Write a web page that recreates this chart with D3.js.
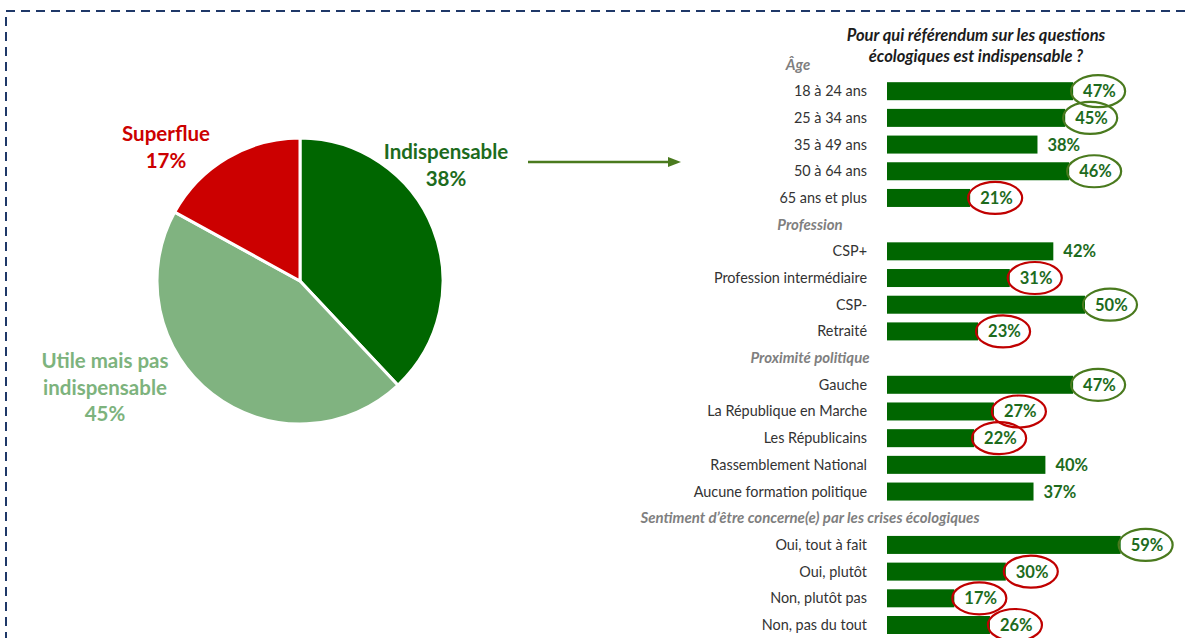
<!DOCTYPE html>
<html>
<head>
<meta charset="utf-8">
<script src="https://cdn.jsdelivr.net/npm/d3@7"></script>
<style>
    body { margin: 0; background: #fff; }
    #chart { width: 1187px; height: 638px; }
    text { font-family: Lato, "Open Sans", sans-serif; }
</style>
</head>
<body>
<div id="chart"></div>
<script>
// pie
const pieLabels = ['Indispensable', 'Utile mais pas indispensable', 'Superflue']
const pieValues = [38, 45, 17]

// bars
const groupNames = ['Âge', 'Profession', 'Proximité politique', 'Sentiment d’être concerne(e) par les crises écologiques']
const categories = [
    '18 à 24 ans', '25 à 34 ans', '35 à 49 ans', '50 à 64 ans', '65 ans et plus',
    'CSP+', 'Profession intermédiaire', 'CSP-', 'Retraité',
    'Gauche', 'La République en Marche', 'Les Républicains', 'Rassemblement National', 'Aucune formation politique',
    'Oui, tout à fait', 'Oui, plutôt', 'Non, plutôt pas', 'Non, pas du tout'
]
const categoryGroup = [0, 0, 0, 0, 0, 1, 1, 1, 1, 2, 2, 2, 2, 2, 3, 3, 3, 3]
const values = [47, 45, 38, 46, 21, 42, 31, 50, 23, 47, 27, 22, 40, 37, 59, 30, 17, 26]
// circled values: 'up' = above average, 'down' = below
const highlights = ['up', 'up', '', 'up', 'down', '', 'down', 'up', 'down', 'up', 'down', 'down', '', '', 'up', 'down', 'down', 'down']

const titleLines = ['Pour qui référendum sur les questions', 'écologiques est indispensable ?']

let DrawChart = function (id) {
    this.id = id
    this.svgWidth = 1187
    this.svgHeight = 638

    this.svg = d3.select('#' + id).append('svg')
        .attr('width', this.svgWidth)
        .attr('height', this.svgHeight)

    this.colors = {
        dark: '#006600',
        light: '#80b380',
        red: '#cc0000',
        darkText: '#1d6b1d',
        lightText: '#7db37d',
        olive: '#4a7a1e',
        circleRed: '#c00000'
    }
}

DrawChart.prototype.drawFrame = function () {
    // dashed frame, runs off the right and bottom edges
    this.svg.append('rect')
        .attr('x', 6)
        .attr('y', 11)
        .attr('width', 1250)
        .attr('height', 700)
        .attr('fill', 'none')
        .attr('stroke', '#1f3868')
        .attr('stroke-width', 2)
        .attr('stroke-dasharray', '9,6')
}

DrawChart.prototype.drawPie = function () {
    const c = this.colors
    const cx = 300, cy = 281, r = 143
    const g = this.svg.append('g')
        .attr('transform', 'translate(' + cx + ',' + cy + ')')

    const pie = d3.pie().sort(null).value(d => d)
    const arc = d3.arc().innerRadius(0).outerRadius(r)
    const fills = [c.dark, c.light, c.red]

    g.selectAll('path').data(pie(pieValues)).join('path')
        .attr('d', arc)
        .attr('fill', (d, i) => fills[i])
        .attr('stroke', '#fff')
        .attr('stroke-width', 3)

    // label anchors (first baseline) relative to pie centre
    const labelPos = [[146, -122], [-195, 87], [-134, -140]]
    const labelColors = [c.darkText, c.lightText, c.red]
    const lines = [
        ['Indispensable'],
        ['Utile mais pas', 'indispensable'],
        ['Superflue']
    ]

    pieLabels.forEach((name, i) => {
        const t = g.append('text')
            .attr('x', labelPos[i][0])
            .attr('y', labelPos[i][1])
            .attr('text-anchor', 'middle')
            .attr('font-size', 20.5)
            .attr('font-weight', 'bold')
            .attr('fill', labelColors[i])
        const rows = lines[i].concat([pieValues[i] + '%'])
        rows.forEach((s, j) => {
            t.append('tspan')
                .attr('x', labelPos[i][0])
                .attr('dy', j === 0 ? 0 : 26.5)
                .text(s)
        })
    })

    // arrow to the bar chart
    this.svg.append('line')
        .attr('x1', 528).attr('y1', 162)
        .attr('x2', 670).attr('y2', 162)
        .attr('stroke', c.olive)
        .attr('stroke-width', 2.5)
    this.svg.append('path')
        .attr('d', 'M668,157 L681,162 L668,167 Z')
        .attr('fill', c.olive)
}

DrawChart.prototype.drawBars = function () {
    const c = this.colors

    // one slot per group header and per category
    let slots = []
    groupNames.forEach((gName, gi) => {
        slots.push({ key: 'h' + gi, header: gName })
        categories.forEach((cat, i) => {
            if (categoryGroup[i] === gi) slots.push({ key: 'c' + i, index: i })
        })
    })

    const y = d3.scalePoint()
        .domain(slots.map(d => d.key))
        .range([64.5, 625])
    const x = d3.scaleLinear()
        .domain([0, 60])
        .range([887, 1124.6])
    const barH = 18

    const g = this.svg.append('g').attr('class', 'bars')

    g.selectAll('text.title').data(titleLines).join('text')
        .attr('class', 'title')
        .attr('x', 976)
        .attr('y', (d, i) => 41 + i * 21)
        .attr('text-anchor', 'middle')
        .attr('font-size', 16.5)
        .attr('font-weight', 'bold')
        .attr('font-style', 'italic')
        .attr('fill', '#1c1c1c')
        .text(d => d)

    const headers = slots.filter(d => d.header)
    g.selectAll('text.header').data(headers).join('text')
        .attr('class', 'header')
        .attr('x', (d, i) => i === 0 ? 798 : 810)
        .attr('y', d => y(d.key) + 5)
        .attr('text-anchor', 'middle')
        .attr('font-size', 15)
        .attr('font-weight', 'bold')
        .attr('font-style', 'italic')
        .attr('fill', '#7f7f7f')
        .text(d => d.header)

    const rows = slots.filter(d => d.header === undefined)

    g.selectAll('text.cat').data(rows).join('text')
        .attr('class', 'cat')
        .attr('x', 867)
        .attr('y', d => y(d.key) + 5)
        .attr('text-anchor', 'end')
        .attr('font-size', 14.4)
        .attr('fill', '#333')
        .text(d => categories[d.index])

    g.selectAll('rect.bar').data(rows).join('rect')
        .attr('class', 'bar')
        .attr('x', x(0))
        .attr('y', d => y(d.key) - barH / 2)
        .attr('width', d => x(values[d.index]) - x(0))
        .attr('height', barH)
        .attr('fill', c.dark)

    const labelX = d => x(values[d.index]) + 10

    g.selectAll('ellipse.mark').data(rows.filter(d => highlights[d.index])).join('ellipse')
        .attr('class', 'mark')
        .attr('cx', d => labelX(d) + 15)
        .attr('cy', d => y(d.key))
        .attr('rx', 27)
        .attr('ry', 16)
        .attr('fill', 'none')
        .attr('stroke', d => highlights[d.index] === 'up' ? c.olive : c.circleRed)
        .attr('stroke-width', 2.2)

    g.selectAll('text.val').data(rows).join('text')
        .attr('class', 'val')
        .attr('x', labelX)
        .attr('y', d => y(d.key) + 6)
        .attr('font-size', 16.5)
        .attr('font-weight', 'bold')
        .attr('fill', c.darkText)
        .text(d => values[d.index] + '%')
}

let chart = new DrawChart('chart')
chart.drawFrame()
chart.drawPie()
chart.drawBars()
</script>
</body>
</html>
